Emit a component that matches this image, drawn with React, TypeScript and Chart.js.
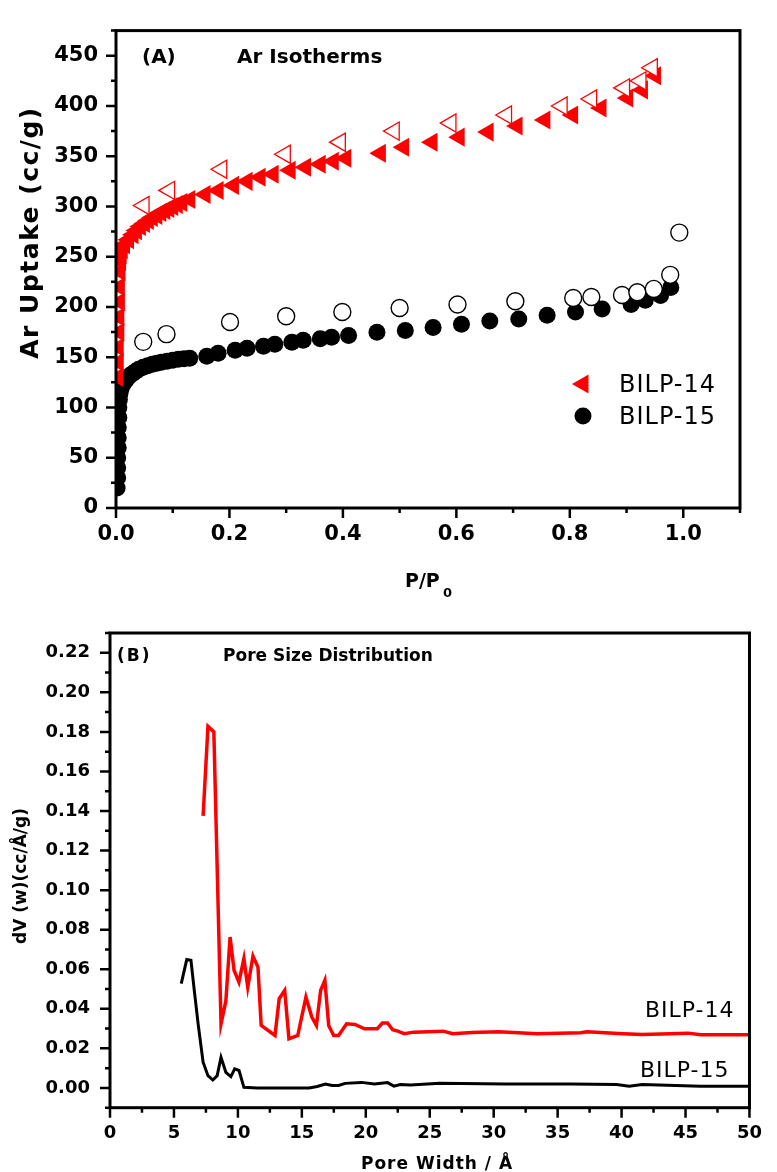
import React, { useEffect, useRef } from 'react';
import { Chart, registerables } from 'chart.js';
Chart.register(...registerables);

const FAM = '"DejaVu Sans", sans-serif';

// ---------- Panel A: Ar isotherms ----------
const b14AdsP = [0.003, 0.004, 0.004, 0.005, 0.005, 0.006, 0.006, 0.007, 0.008, 0.009, 0.011, 0.015, 0.022, 0.03, 0.036, 0.043, 0.05, 0.057, 0.064, 0.072, 0.079, 0.086, 0.093, 0.1, 0.108, 0.116, 0.13, 0.157, 0.18, 0.207, 0.231, 0.254, 0.277, 0.307, 0.334, 0.36, 0.383, 0.405, 0.466, 0.507, 0.557, 0.605, 0.656, 0.707, 0.756, 0.805, 0.855, 0.902, 0.928, 0.951];
const b14AdsV = [130, 145, 160, 175, 190, 205, 220, 235, 245, 252, 257, 262, 267, 272, 276, 280, 283, 286, 289, 291, 294, 296, 298, 300, 302, 304, 307, 312, 316, 321, 325, 329, 332, 336, 339, 342, 345, 348, 353, 359, 364, 369, 374, 380, 386, 391, 398, 408, 416, 430];
const b14DesP = [0.049, 0.094, 0.186, 0.298, 0.395, 0.49, 0.59, 0.688, 0.786, 0.838, 0.896, 0.925, 0.945];
const b14DesV = [301, 316, 337, 352, 364, 375, 383, 391, 400, 407, 418, 425, 438];
const b15AdsP = [0.002, 0.003, 0.003, 0.003, 0.004, 0.004, 0.004, 0.005, 0.005, 0.006, 0.007, 0.009, 0.012, 0.016, 0.02, 0.025, 0.03, 0.035, 0.04, 0.048, 0.056, 0.064, 0.072, 0.08, 0.09, 0.1, 0.11, 0.12, 0.13, 0.16, 0.18, 0.21, 0.231, 0.26, 0.28, 0.31, 0.33, 0.36, 0.38, 0.41, 0.46, 0.51, 0.559, 0.609, 0.659, 0.71, 0.76, 0.81, 0.857, 0.908, 0.933, 0.96, 0.978];
const b15AdsV = [20, 30, 40, 50, 60, 70, 80, 90, 100, 108, 114, 119, 123, 126, 129, 132, 134, 136, 138, 140, 141.5, 143, 144, 145, 146, 147, 148, 148.5, 149, 151, 154, 157, 159, 161, 163, 165, 167, 168.5, 170, 171.7, 174.8, 176.5, 179.6, 182.8, 186, 188, 191.7, 195, 198, 202.5, 206.7, 211.5, 219.5];
const b15DesP = [0.048, 0.089, 0.201, 0.3, 0.399, 0.5, 0.602, 0.704, 0.806, 0.838, 0.892, 0.919, 0.948, 0.977, 0.993];
const b15DesV = [165.3, 173, 185, 190.8, 195, 199, 202.5, 205.7, 209, 210, 212, 214.7, 218, 232, 274];
const xTicksA = [0, 0.2, 0.4, 0.6, 0.8, 1.0];
const xMinorA = [0.1, 0.3, 0.5, 0.7, 0.9, 1.1];
const yTicksA = [0, 50, 100, 150, 200, 250, 300, 350, 400, 450];
const yMinorA = [25, 75, 125, 175, 225, 275, 325, 375, 425, 475];
const seriesNames = ['BILP-14', 'BILP-15'];

// ---------- Panel B: pore size distribution ----------
const psdX14 = [7.28, 7.66, 8.12, 8.68, 9.06, 9.39, 9.70, 10.08, 10.47, 10.77, 11.18, 11.57, 11.82, 12.9, 13.23, 13.66, 13.99, 14.68, 15.32, 15.78, 16.14, 16.47, 16.8, 17.1, 17.49, 17.87, 18.5, 19.15, 19.9, 20.9, 21.3, 21.7, 22.1, 22.5, 23.0, 23.75, 26.05, 26.8, 28.3, 30.4, 33.4, 36.8, 37.3, 40.1, 41.6, 45.2, 46.2, 50];
const psdY14 = [0.1375, 0.1828, 0.180, 0.0324, 0.044, 0.0763, 0.0595, 0.0535, 0.0654, 0.051, 0.0666, 0.0611, 0.0316, 0.0265, 0.0451, 0.0493, 0.0248, 0.0265, 0.0459, 0.0358, 0.0316, 0.0493, 0.0544, 0.0316, 0.0265, 0.0265, 0.0324, 0.0321, 0.0299, 0.0299, 0.0328, 0.0328, 0.0294, 0.0287, 0.0274, 0.0282, 0.0287, 0.0274, 0.028, 0.0284, 0.0274, 0.0279, 0.0284, 0.0274, 0.027, 0.0277, 0.0269, 0.0269];
const psdX15 = [5.57, 6.0, 6.33, 6.59, 6.89, 7.28, 7.66, 8.04, 8.38, 8.68, 9.06, 9.45, 9.75, 10.09, 10.47, 11.5, 15.57, 16.2, 16.85, 17.36, 17.87, 18.39, 19.66, 20.68, 21.7, 22.2, 22.7, 23.5, 25.8, 30.9, 36.0, 39.6, 40.6, 41.6, 46.2, 50];
const psdY15 = [0.0527, 0.0649, 0.0645, 0.0493, 0.0324, 0.013, 0.0062, 0.004, 0.0062, 0.0155, 0.0079, 0.0057, 0.0096, 0.0088, 0.0003, 0.0, 0.0, 0.0007, 0.002, 0.0012, 0.0012, 0.0023, 0.0028, 0.002, 0.0027, 0.0009, 0.0017, 0.0015, 0.0023, 0.002, 0.002, 0.0017, 0.0009, 0.0017, 0.0009, 0.0009];
const xTicksB = [0, 5, 10, 15, 20, 25, 30, 35, 40, 45, 50];
const xMinorB = [2.5, 7.5, 12.5, 17.5, 22.5, 27.5, 32.5, 37.5, 42.5, 47.5];
const yTicksB = [0, 0.02, 0.04, 0.06, 0.08, 0.10, 0.12, 0.14, 0.16, 0.18, 0.20, 0.22];
const yMinorB = [-0.01, 0.01, 0.03, 0.05, 0.07, 0.09, 0.11, 0.13, 0.15, 0.17, 0.19, 0.21, 0.23];

const zip = (xs: number[], ys: number[]) => xs.map((x, i) => ({ x, y: ys[i] }));

function text(ctx: any, s: string, x: number, y: number, font: string, align = 'left', spacing = 0, rotate = false) {
  ctx.save();
  ctx.font = font;
  ctx.fillStyle = '#000';
  ctx.textBaseline = 'alphabetic';
  ctx.textAlign = align;
  try { ctx.letterSpacing = spacing + 'px'; } catch (e) {}
  if (rotate) {
    ctx.translate(x, y);
    ctx.rotate(-Math.PI / 2);
    ctx.fillText(s, 0, 0);
  } else {
    ctx.fillText(s, x, y);
  }
  ctx.restore();
}

function framePlugin(t: any) {
  return {
    id: 'frame',
    afterDatasetsDraw(chart: any) {
      const { ctx, chartArea: a, scales } = chart;
      ctx.save();
      ctx.strokeStyle = '#000';
      ctx.lineWidth = 2.5;
      ctx.beginPath();
      const xs = scales.x, ys = scales.y;
      t.xMajor.forEach((v: number) => { const p = xs.getPixelForValue(v); ctx.moveTo(p, a.bottom); ctx.lineTo(p, a.bottom + t.major); });
      t.xMinor.forEach((v: number) => { const p = xs.getPixelForValue(v); ctx.moveTo(p, a.bottom); ctx.lineTo(p, a.bottom + t.minor); });
      t.yMajor.forEach((v: number) => { const p = ys.getPixelForValue(v); ctx.moveTo(a.left, p); ctx.lineTo(a.left - t.major, p); });
      t.yMinor.forEach((v: number) => { const p = ys.getPixelForValue(v); ctx.moveTo(a.left, p); ctx.lineTo(a.left - t.minor, p); });
      ctx.stroke();
      ctx.lineWidth = 3;
      ctx.strokeRect(a.left, a.top, a.right - a.left, a.bottom - a.top);
      ctx.restore();
    },
    afterDraw(chart: any) { t.texts(chart.ctx); },
  };
}

function axisCommon(ticks: number[], fmt: (v: number) => string, size: number, pad: number, fit: (s: any) => void, min: number, max: number) {
  return {
    type: 'linear',
    min, max,
    grid: { display: false, drawTicks: false },
    border: { display: false },
    afterBuildTicks: (s: any) => { s.ticks = ticks.map((v) => ({ value: v })); },
    afterFit: fit,
    ticks: {
      color: '#000',
      padding: pad,
      autoSkip: false,
      maxRotation: 0,
      font: { family: FAM, size, weight: 'bold' },
      callback: (v: any) => fmt(Number(v)),
    },
  };
}

function PanelA() {
  const ref = useRef<HTMLCanvasElement>(null);
  useEffect(() => {
    const texts = (ctx: any) => {
      text(ctx, '(A)', 142, 63, `bold 20px ${FAM}`);
      text(ctx, 'Ar Isotherms', 237, 63, `bold 20px ${FAM}`);
      text(ctx, 'Ar Uptake (cc/g)', 38, 232.5, `bold 25px ${FAM}`, 'center', 1.5, true);
      text(ctx, 'P/P', 405, 587, `bold 19px ${FAM}`);
      text(ctx, '0', 443, 597, `bold 13px ${FAM}`);
      // legend
      ctx.save();
      ctx.fillStyle = '#ff0000';
      ctx.beginPath();
      const tx = 583, ty = 384, r = 11;
      ctx.moveTo(tx - r, ty);
      ctx.lineTo(tx + r / 2, ty - r * 0.866);
      ctx.lineTo(tx + r / 2, ty + r * 0.866);
      ctx.closePath();
      ctx.fill();
      ctx.fillStyle = '#000';
      ctx.beginPath();
      ctx.arc(583, 416, 8.5, 0, Math.PI * 2);
      ctx.fill();
      ctx.restore();
      text(ctx, seriesNames[0], 619, 392, `24px ${FAM}`, 'left', 1);
      text(ctx, seriesNames[1], 619, 424, `24px ${FAM}`, 'left', 1);
    };
    const chart = new Chart(ref.current as HTMLCanvasElement, {
      type: 'scatter',
      data: {
        datasets: [
          { label: 'BILP-14 des', data: zip(b14DesP, b14DesV), order: 0, pointStyle: 'triangle', pointRotation: -90, pointRadius: 10.5, backgroundColor: '#ffffff', borderColor: '#ff0000', borderWidth: 1.3 },
          { label: 'BILP-15 des', data: zip(b15DesP, b15DesV), order: 0, pointStyle: 'circle', pointRadius: 8.5, backgroundColor: '#ffffff', borderColor: '#000000', borderWidth: 1.4 },
          { label: 'BILP-14', data: zip(b14AdsP, b14AdsV), order: 1, pointStyle: 'triangle', pointRotation: -90, pointRadius: 11, backgroundColor: '#ff0000', borderColor: '#ff0000', borderWidth: 0 },
          { label: 'BILP-15', data: zip(b15AdsP, b15AdsV), order: 1, pointStyle: 'circle', pointRadius: 8.5, backgroundColor: '#000000', borderColor: '#000000', borderWidth: 0 },
        ] as any,
      },
      options: {
        animation: false,
        responsive: false,
        devicePixelRatio: 1,
        events: [],
        layout: { padding: { left: 0, right: 37, top: 12, bottom: 0 } },
        plugins: { legend: { display: false }, tooltip: { enabled: false } },
        datasets: { scatter: { clip: { left: 0, bottom: 0, top: 30, right: 30 } } } as any,
        scales: {
          x: axisCommon(xTicksA, (v) => v.toFixed(1), 21, 14, (s: any) => { s.height = 92; }, 0, 1.1) as any,
          y: axisCommon(yTicksA, (v) => String(Math.round(v)), 21, 18, (s: any) => { s.width = 116; }, 0, 475) as any,
        },
      },
      plugins: [framePlugin({ xMajor: xTicksA, xMinor: xMinorA, yMajor: yTicksA, yMinor: yMinorA, major: 10, minor: 5, texts })],
    });
    return () => chart.destroy();
  }, []);
  return <canvas ref={ref} width={777} height={600} style={{ position: 'absolute', left: 0, top: 0, width: 777, height: 600 }} />;
}

function PanelB() {
  const ref = useRef<HTMLCanvasElement>(null);
  useEffect(() => {
    const texts = (ctx: any) => {
      text(ctx, '(B)', 117, 60.5, `bold 17px ${FAM}`, 'left', 2);
      text(ctx, 'Pore Size Distribution', 223, 60.5, `bold 17px ${FAM}`);
      text(ctx, 'dV (w)(cc/Å/g)', 26, 276, `bold 17px ${FAM}`, 'center', 0, true);
      text(ctx, 'Pore Width / Å', 437, 569, `bold 17px ${FAM}`, 'center', 1);
      text(ctx, seriesNames[0], 645, 417, `22px ${FAM}`, 'left', 1);
      text(ctx, seriesNames[1], 640, 476.7, `22px ${FAM}`, 'left', 1);
    };
    const chart = new Chart(ref.current as HTMLCanvasElement, {
      type: 'scatter',
      data: {
        datasets: [
          { label: 'BILP-14', data: zip(psdX14, psdY14), showLine: true, pointRadius: 0, borderColor: '#ff0000', borderWidth: 3.5, tension: 0 },
          { label: 'BILP-15', data: zip(psdX15, psdY15), showLine: true, pointRadius: 0, borderColor: '#000000', borderWidth: 3, tension: 0 },
        ] as any,
      },
      options: {
        animation: false,
        responsive: false,
        devicePixelRatio: 1,
        events: [],
        layout: { padding: { left: 0, right: 14.3, top: 33, bottom: 0 } },
        plugins: { legend: { display: false }, tooltip: { enabled: false } },
        scales: {
          x: axisCommon(xTicksB, (v) => String(Math.round(v)), 18, 15, (s: any) => { s.height = 64.3; }, 0, 50) as any,
          y: axisCommon(yTicksB, (v) => v.toFixed(2), 18, 20, (s: any) => { s.width = 110; }, -0.01, 0.23) as any,
        },
      },
      plugins: [framePlugin({ xMajor: xTicksB, xMinor: xMinorB, yMajor: yTicksB, yMinor: yMinorB, major: 10, minor: 5, texts })],
    });
    return () => chart.destroy();
  }, []);
  return <canvas ref={ref} width={777} height={572} style={{ position: 'absolute', left: 0, top: 600, width: 777, height: 572 }} />;
}

export default function App() {
  return (
    <div style={{ position: 'absolute', left: 0, top: 0, width: 777, height: 1172, background: '#fff' }}>
      <PanelA />
      <PanelB />
    </div>
  );
}
